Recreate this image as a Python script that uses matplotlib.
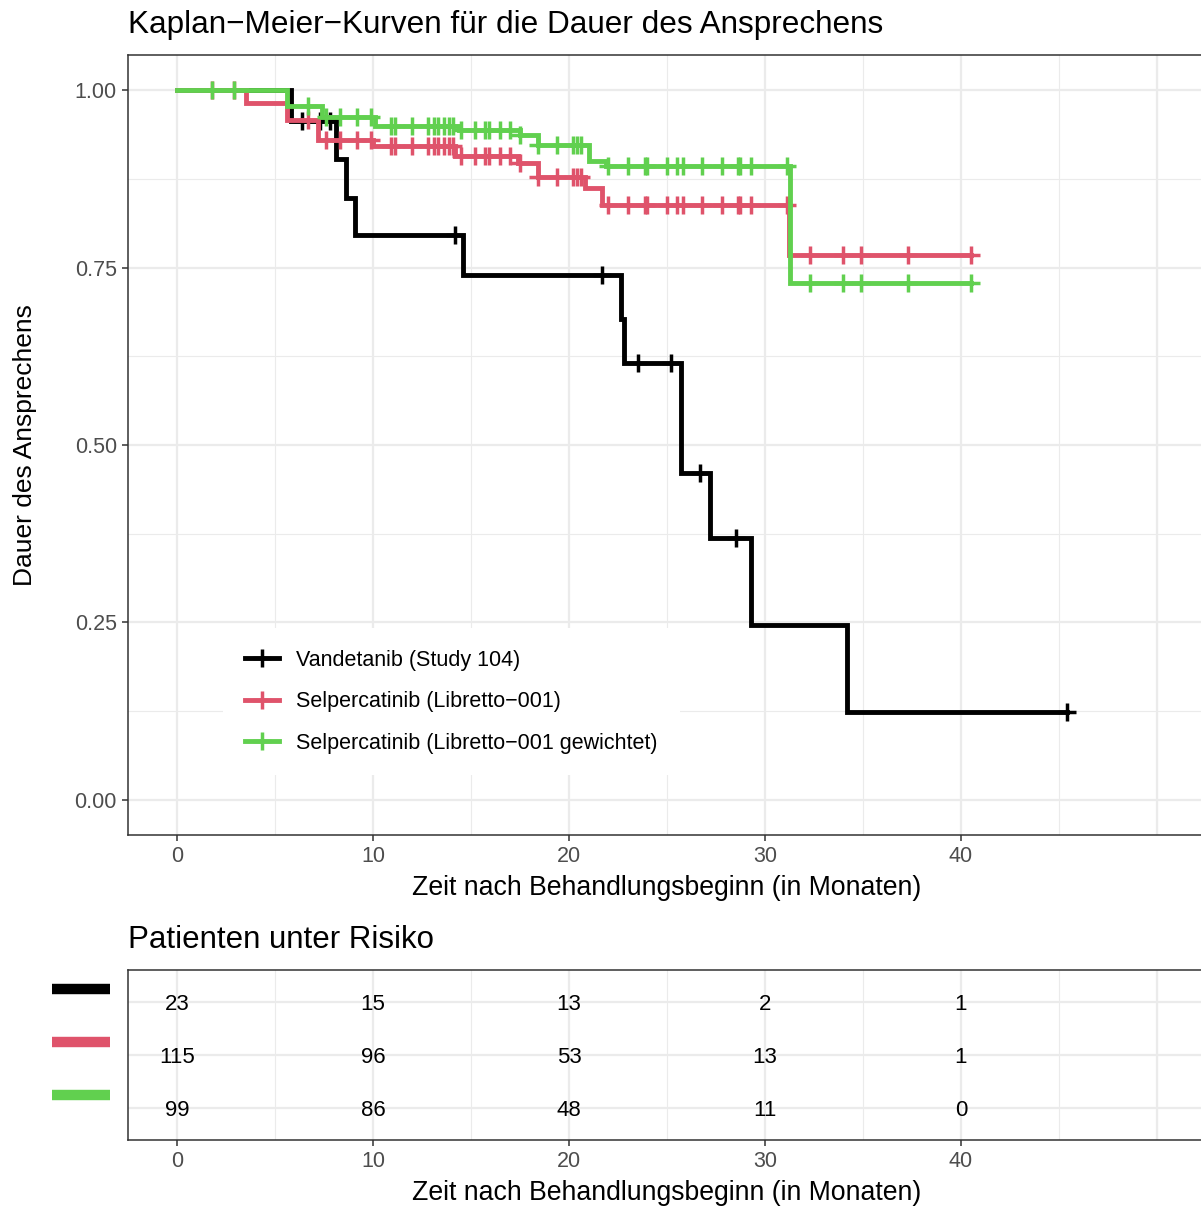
import numpy as np
import matplotlib
matplotlib.use("Agg")
import matplotlib.pyplot as plt
from matplotlib.lines import Line2D
from matplotlib.ticker import MultipleLocator

plt.rcParams['font.family'] = ['Liberation Sans', 'DejaVu Sans']

# Kaplan-Meier step data (time in months, survival after step)
time_van = [0, 5.8, 8.1, 8.6, 9.1, 14.6, 22.65, 22.8, 25.7, 27.2, 29.3, 34.2]
surv_van = [1.0, 0.957, 0.904, 0.848, 0.796, 0.740, 0.678, 0.616, 0.461, 0.369, 0.246, 0.123]
cens_van = [6.4, 7.3, 7.8, 14.2, 21.7, 23.5, 25.2, 26.7, 28.5, 45.4]
end_van = 45.4

time_sel = [0, 3.5, 5.6, 7.2, 10.0, 14.2, 17.4, 18.4, 20.8, 21.7, 31.2]
surv_sel = [1.0, 0.983, 0.958, 0.930, 0.922, 0.908, 0.897, 0.878, 0.862, 0.838, 0.768]

time_wt = [0, 5.6, 7.4, 10.1, 14.4, 17.5, 18.4, 21.0, 21.9, 31.3]
surv_wt = [1.0, 0.978, 0.962, 0.950, 0.944, 0.937, 0.923, 0.901, 0.894, 0.728]

cens_sel = [1.8, 2.9, 6.7, 7.6, 8.3, 9.2, 9.9, 10.9, 11.1, 12.0, 12.8, 13.1,
            13.3, 13.6, 13.9, 14.1, 14.5, 15.2, 15.7, 15.9, 16.5, 17.0, 17.5,
            18.4, 19.4, 20.2, 20.4, 20.6, 22.0, 23.0, 23.9, 24.0, 25.0, 25.5,
            25.8, 26.8, 27.8, 28.6, 28.7, 29.3, 31.1, 32.3, 34.0, 34.9, 37.3, 40.5]
end_sel = 40.5

labels = ['Vandetanib (Study 104)', 'Selpercatinib (Libretto\u2212001)',
          'Selpercatinib (Libretto\u2212001 gewichtet)']
colors = ['black', '#DF536B', '#61D04F']

risk_times = [0, 10, 20, 30, 40]
risk_van = [23, 15, 13, 2, 1]
risk_sel = [115, 96, 53, 13, 1]
risk_wt = [99, 86, 48, 11, 0]

W, H = 1201, 1206
fig = plt.figure(figsize=(W / 100, H / 100), dpi=100)

grid_c = '#EBEBEB'
frame_c = '#333333'
tick_c = '#4D4D4D'


def style_axes(ax):
    ax.set_xticks(risk_times)
    ax.xaxis.set_minor_locator(MultipleLocator(5))
    ax.grid(True, which='major', color=grid_c, lw=1.6)
    ax.grid(True, which='minor', color=grid_c, lw=0.8)
    ax.axvline(50, color=grid_c, lw=1.6, zorder=0)
    ax.set_axisbelow(True)
    for s in ax.spines.values():
        s.set_color(frame_c)
        s.set_linewidth(1.1)
    ax.tick_params(which='major', direction='out', length=4, width=1.1,
                   color=frame_c, labelcolor=tick_c, labelsize=15.5, pad=4)
    ax.tick_params(which='minor', length=0)


# main KM panel
ax = fig.add_axes([128 / W, 1 - 835 / H, 1078 / W, 780 / H])
ax.set_xlim(-2.5, 52.5)
ax.set_ylim(-0.05, 1.05)
ax.yaxis.set_major_locator(MultipleLocator(0.25))
ax.yaxis.set_minor_locator(MultipleLocator(0.125))
style_axes(ax)
ax.set_yticklabels([f'{v:.2f}' for v in ax.get_yticks()])

curves = [(time_van, surv_van, cens_van, end_van),
          (time_sel, surv_sel, cens_sel, end_sel),
          (time_wt, surv_wt, cens_sel, end_sel)]

for (t, s, c, e), col in zip(curves, colors):
    tt = np.array(t + [e])
    ss = np.array(s + [s[-1]])
    ax.step(tt, ss, where='post', color=col, lw=3.5, solid_joinstyle='miter')
    idx = np.searchsorted(np.array(t), np.array(c), side='right') - 1
    ax.plot(c, np.array(s)[idx], ls='none', marker='+', ms=13, mew=2.5, color=col)

handles = [Line2D([0], [0], color=col, lw=3.5, marker='+', ms=13, mew=2.5)
           for col in colors]
leg = ax.legend(handles, labels, loc='center', bbox_to_anchor=(0.3, 0.171),
                fontsize=15.5, frameon=True, fancybox=False, framealpha=1,
                facecolor='white', edgecolor='none', handlelength=1.6,
                handletextpad=0.8, labelspacing=0.95, borderpad=1.0)

ax.set_xlabel('Zeit nach Behandlungsbeginn (in Monaten)', fontsize=19.2, labelpad=6)
ax.set_ylabel('Dauer des Ansprechens', fontsize=19, labelpad=27)
fig.text(128 / W, 1 - 25 / H, 'Kaplan\u2212Meier\u2212Kurven f\u00fcr die Dauer des Ansprechens',
         fontsize=22.7, ha='left', va='center')

# risk table panel
rax = fig.add_axes([128 / W, 1 - 1140 / H, 1078 / W, 170 / H])
rax.set_xlim(-2.5, 52.5)
rax.set_ylim(0.4, 3.6)
rax.set_yticks([1, 2, 3])
style_axes(rax)
rax.tick_params(axis='y', length=0, labelleft=False)
rax.set_xlabel('Zeit nach Behandlungsbeginn (in Monaten)', fontsize=19.2, labelpad=6)
fig.text(128 / W, 1 - 940 / H, 'Patienten unter Risiko', fontsize=22.5, ha='left', va='center')

for row, (vals, col) in enumerate(zip([risk_van, risk_sel, risk_wt], colors)):
    y = 3 - row
    for t, v in zip(risk_times, vals):
        rax.text(t, y - 0.05, str(v), ha='center', va='center', fontsize=16, color='black')
    rax.plot([-0.0705, -0.0167], [y + 0.25, y + 0.25], color=col, lw=7.5,
             solid_capstyle='butt', clip_on=False,
             transform=rax.get_yaxis_transform())

fig.savefig('out.png', dpi=100)
